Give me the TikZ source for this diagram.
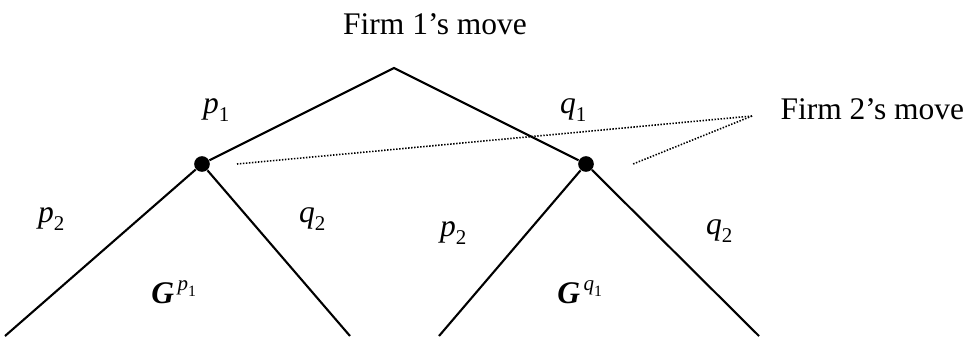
\documentclass[tikz,border=0pt]{standalone}
\usepackage{fontspec}
\setmainfont{Liberation Serif}
\usepackage{amsmath}
\usetikzlibrary{
    positioning,
    calc
}
\tikzstyle{branch} = [
    line width=0.8pt,
    draw=black
]
\tikzstyle{decision} = [
    circle,
    fill=black,
    inner sep=0pt,
    minimum size=0.21cm
]
\tikzstyle{infoset} = [
    line width=0.6pt,
    dash pattern=on 0.55pt off 0.6pt
]
\tikzstyle{movetext} = [
    anchor=base,
    inner sep=0pt,
    font=\fontsize{12}{14}\selectfont
]
\newcommand{\act}[2]{$\textit{#1}_{\textrm{#2}}$}
\newcommand{\subgame}[2]{$\textbf{\textit{G}}^{\,\textit{#1}_{\textrm{#2}}}$}

\begin{document}
\begin{tikzpicture}[x=0.01339cm, y=-0.01339cm]
        \useasboundingbox (0,0) rectangle (971,336);

        % Tree points
        \coordinate (root) at (394,68);
        \node[decision] (n1) at (202,164) {};
        \node[decision] (n2) at (586,164) {};
        \coordinate (l1) at (5,336);
        \coordinate (l2) at (350,336);
        \coordinate (l3) at (439,336);
        \coordinate (l4) at (759,336);

        % Branches
        \draw[branch] (n1) -- (root) -- (n2);
        \draw[branch] (l1) -- (n1) -- (l2);
        \draw[branch] (l3) -- (n2) -- (l4);

        % Moves
        \node[movetext] (f1) at (435,34) {Firm 1’s move};
        \node[movetext, anchor=base west] (f2) at (780,119) {Firm 2’s move};

        % Information set
        \coordinate (conv) at (752,116);
        \coordinate (d1) at (237,164);
        \coordinate (d2) at (633,164);
        \draw[infoset] (conv) -- (d1);
        \draw[infoset] (conv) -- (d2);

        % Actions
        \node[movetext] (a1) at (217,113) {\act{p}{1}};
        \node[movetext] (b1) at (574,113) {\act{q}{1}};
        \node[movetext] (a2) at (52,222) {\act{p}{2}};
        \node[movetext] (b2) at (313,222) {\act{q}{2}};
        \node[movetext] (a3) at (454,236) {\act{p}{2}};
        \node[movetext] (b3) at (720,234) {\act{q}{2}};

        % Subgames
        \node[movetext] (g1) at (175,303) {\subgame{p}{1}};
        \node[movetext] (g2) at (581,303) {\subgame{q}{1}};
    \end{tikzpicture}
\end{document}
